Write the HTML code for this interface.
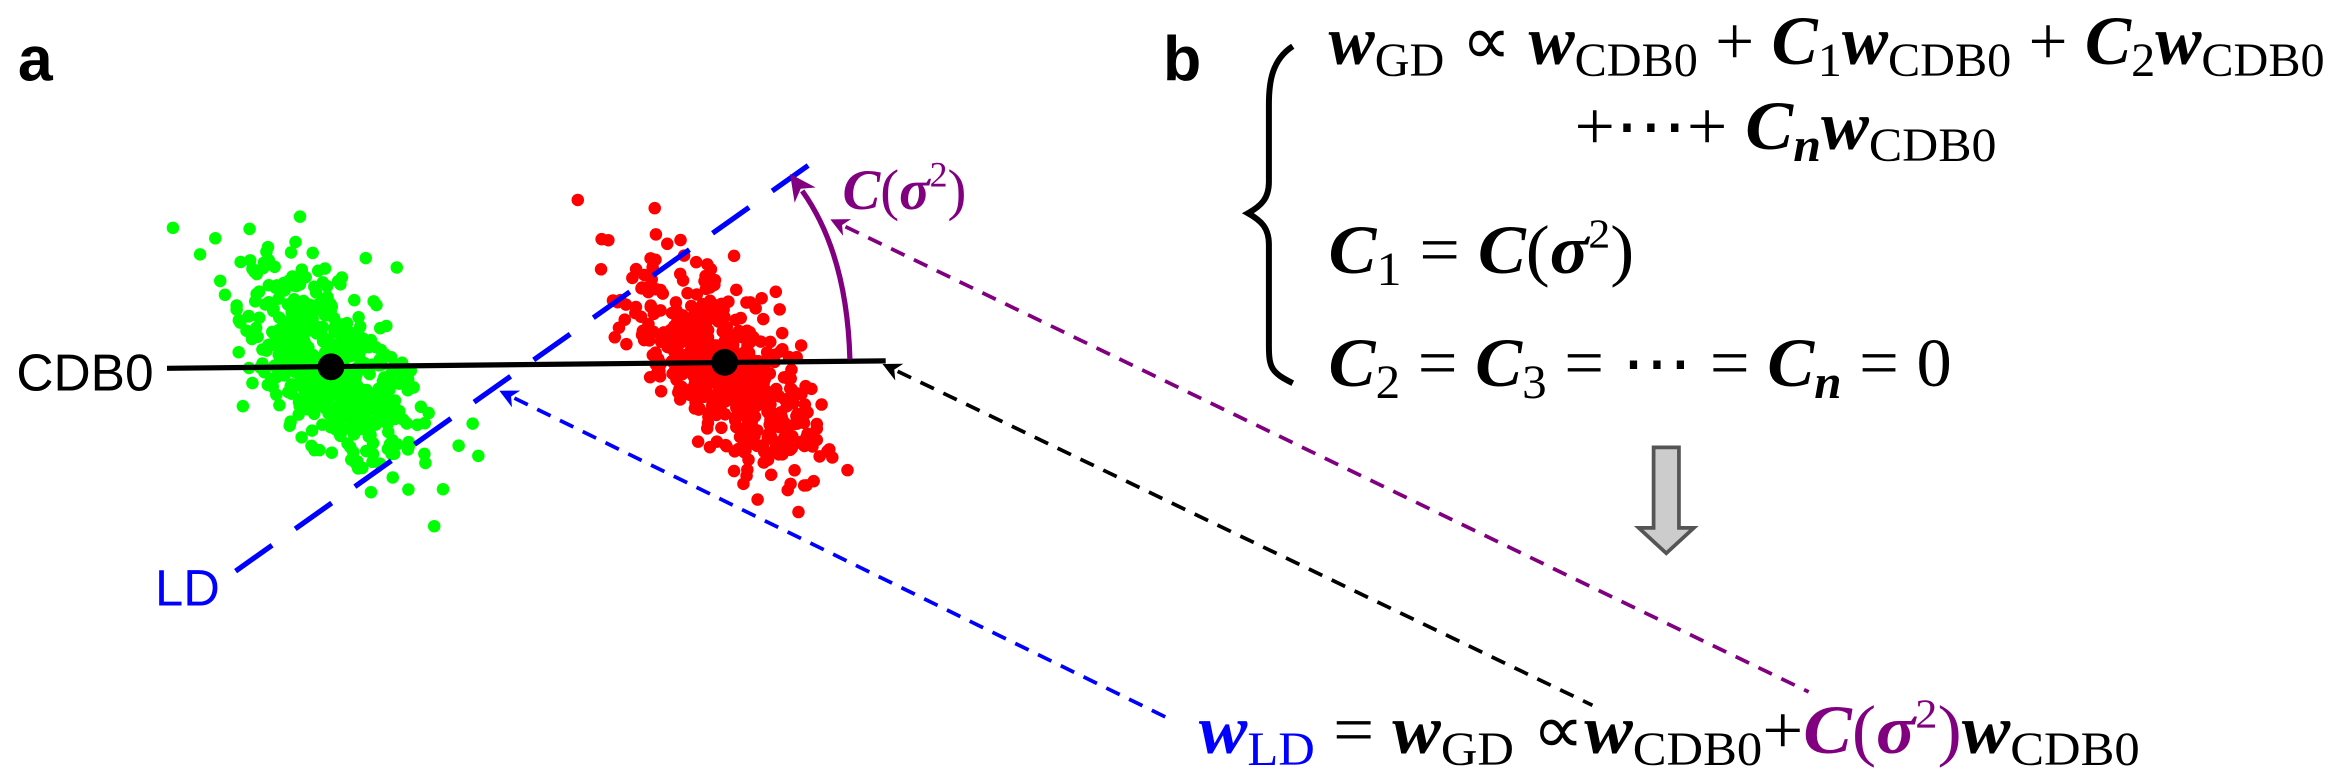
<!DOCTYPE html>
<html><head><meta charset="utf-8"><style>
html,body{margin:0;padding:0;background:#fff;}
svg{display:block;}
.m{font-family:"Liberation Serif",serif;font-weight:bold;font-style:italic;}
.s{font-style:normal;font-weight:normal;}
</style></head><body>
<svg id="sv" width="2338" height="780" viewBox="0 0 1568 523.1" preserveAspectRatio="none" xmlns="http://www.w3.org/2000/svg">
<defs>
<marker id="ab" viewBox="0 0 10 10" refX="1" refY="5" markerWidth="5" markerHeight="5" orient="auto-start-reverse"><path d="M0,0L10,5L0,10L3,5z" fill="#0000ff"/></marker>
<marker id="ak" viewBox="0 0 10 10" refX="1" refY="5" markerWidth="5" markerHeight="5" orient="auto-start-reverse"><path d="M0,0L10,5L0,10L3,5z" fill="#000"/></marker>
<marker id="ap" viewBox="0 0 10 10" refX="1" refY="5" markerWidth="5" markerHeight="5" orient="auto-start-reverse"><path d="M0,0L10,5L0,10L3,5z" fill="#800080"/></marker>
<marker id="aq" viewBox="0 0 10 10" refX="2" refY="5" markerWidth="5" markerHeight="5" orient="auto"><path d="M0,0L10,5L0,10L3,5z" fill="#800080"/></marker>
</defs>
<g id="pts"></g>
<text x="12" y="54" font-family="Liberation Sans" font-weight="bold" font-size="42">a</text>
<text x="780" y="54" font-family="Liberation Sans" font-weight="bold" font-size="42">b</text>
<text x="11" y="262" font-family="Liberation Sans" font-size="35" textLength="92" lengthAdjust="spacingAndGlyphs">CDB0</text>
<text x="104" y="406" font-family="Liberation Sans" font-size="34" fill="#0000ff">LD</text>
<line x1="112" y1="247" x2="594" y2="242" stroke="#000" stroke-width="3.5"/>
<circle cx="222" cy="246" r="9" fill="#000"/>
<circle cx="486" cy="243" r="9" fill="#000"/>
<line x1="158" y1="383" x2="542" y2="111" stroke="#0000ff" stroke-width="3.5" stroke-dasharray="30,19"/>
<path d="M570,241 Q568,170 538,128" fill="none" stroke="#800080" stroke-width="3.5" marker-end="url(#aq)"/>
<text x="565" y="140" class="m" font-size="38" fill="#800080">C<tspan class="s">(</tspan>σ<tspan class="s" font-size="24" dy="-15">2</tspan><tspan class="s" dy="15">)</tspan></text>
<line x1="345" y1="267" x2="784" y2="482" stroke="#0000ff" stroke-width="2.5" stroke-dasharray="10,7" marker-start="url(#ab)"/>
<line x1="602" y1="249" x2="1068" y2="473" stroke="#000" stroke-width="2.5" stroke-dasharray="10,7" marker-start="url(#ak)"/>
<line x1="567" y1="152" x2="1213" y2="464" stroke="#800080" stroke-width="2.5" stroke-dasharray="10,7" marker-start="url(#ap)"/>
<path d="M867,31 C853,40 851,55 851,70 L851,122 C851,133 846,138 837,143 C846,148 851,153 851,164 L851,232 C851,247 853,250 867,257" fill="none" stroke="#000" stroke-width="4"/>
<text x="891" y="43" class="m" font-size="46" textLength="668" lengthAdjust="spacingAndGlyphs">w<tspan class="s" font-size="32" dy="8">GD</tspan><tspan class="s" dy="-8"> ∝ </tspan>w<tspan class="s" font-size="32" dy="8">CDB0</tspan><tspan class="s" dy="-8"> + </tspan>C<tspan class="s" font-size="32" dy="8">1</tspan><tspan dy="-8">w</tspan><tspan class="s" font-size="32" dy="8">CDB0</tspan><tspan class="s" dy="-8"> + </tspan>C<tspan class="s" font-size="32" dy="8">2</tspan><tspan dy="-8">w</tspan><tspan class="s" font-size="32" dy="8">CDB0</tspan></text>
<text x="1056" y="100" class="m" font-size="46" textLength="283" lengthAdjust="spacingAndGlyphs"><tspan class="s">+⋯+ </tspan>C<tspan font-size="32" dy="8">n</tspan><tspan dy="-8">w</tspan><tspan class="s" font-size="32" dy="8">CDB0</tspan></text>
<text x="891" y="183" class="m" font-size="46" textLength="205" lengthAdjust="spacingAndGlyphs">C<tspan class="s" font-size="32" dy="8">1</tspan><tspan class="s" dy="-8"> = </tspan>C<tspan class="s">(</tspan>σ<tspan class="s" font-size="28" dy="-17">2</tspan><tspan class="s" dy="17">)</tspan></text>
<text x="891" y="259" class="m" font-size="46" textLength="418" lengthAdjust="spacingAndGlyphs">C<tspan class="s" font-size="32" dy="8">2</tspan><tspan class="s" dy="-8"> = </tspan>C<tspan class="s" font-size="32" dy="8">3</tspan><tspan class="s" dy="-8"> = ⋯ = </tspan>C<tspan font-size="32" dy="8">n</tspan><tspan class="s" dy="-8"> = 0</tspan></text>
<path d="M1109,300 L1126,300 L1126,354 L1136,354 L1117.5,371 L1099,354 L1109,354 Z" fill="#cccccc" stroke="#555" stroke-width="2.5"/>
<text x="804" y="505" class="m" font-size="46" textLength="631" lengthAdjust="spacingAndGlyphs"><tspan fill="#0000ff">w</tspan><tspan class="s" font-size="32" dy="8" fill="#0000ff">LD</tspan><tspan class="s" dy="-8"> = </tspan>w<tspan class="s" font-size="32" dy="8">GD</tspan><tspan class="s" dy="-8">  ∝</tspan>w<tspan class="s" font-size="32" dy="8">CDB0</tspan><tspan class="s" dy="-8">+</tspan><tspan fill="#800080">C</tspan><tspan class="s" fill="#800080">(</tspan><tspan fill="#800080">σ</tspan><tspan class="s" font-size="28" dy="-17" fill="#800080">2</tspan><tspan class="s" dy="17" fill="#800080">)</tspan>w<tspan class="s" font-size="32" dy="8">CDB0</tspan></text>
</svg>
<script>
(function(){
var s=12345;function r(){s=(s*1103515245+12345)%2147483648;return s/2147483648;}
function g(){var u=r()||1e-9,v=r();return Math.sqrt(-2*Math.log(u))*Math.cos(2*Math.PI*v);}
var G=document.getElementById('pts'),h='';
function cl(cx,cy,col,n){var dx=0.64,dy=0.77;for(var i=0;i<n;i++){var a=g()*40,b=g()*19;var x=cx+a*dx-b*dy,y=cy+a*dy+b*dx;h+='<circle cx="'+x.toFixed(1)+'" cy="'+y.toFixed(1)+'" r="4.2" fill="'+col+'"/>';}}
cl(222,246,'#00ff00',560);cl(486,248,'#ff0000',560);
G.innerHTML=h;
})();
</script>
</body></html>
